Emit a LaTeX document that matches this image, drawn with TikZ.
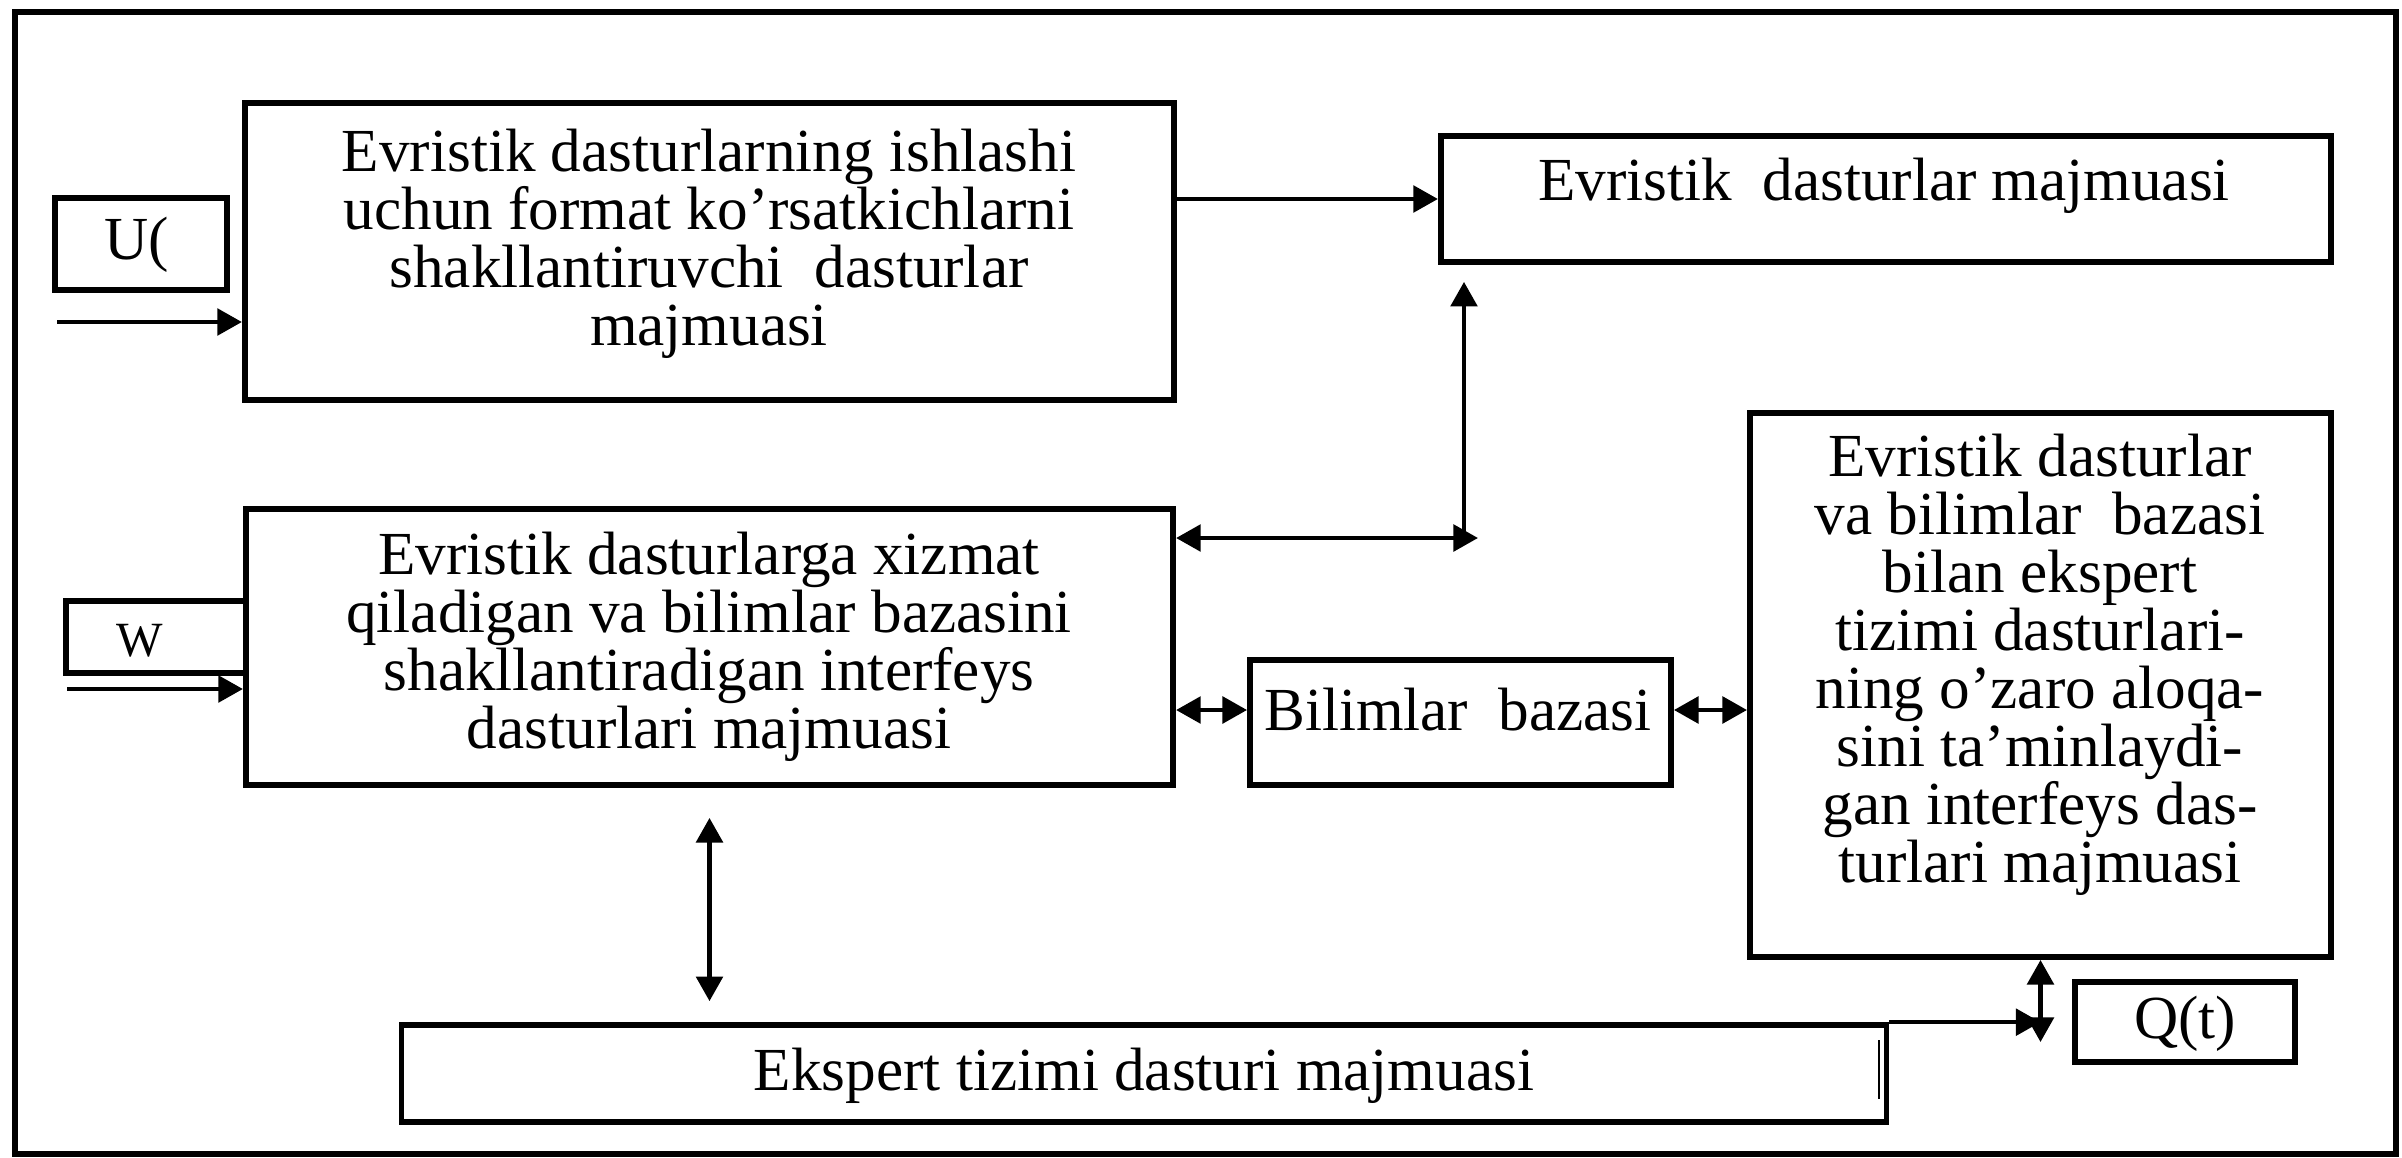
\documentclass[tikz,border=0pt]{standalone}
\usepackage{fontspec}
\setmainfont{Liberation Serif}
\usetikzlibrary{arrows.meta,calc}
\begin{document}
\begin{tikzpicture}[x=0.01cm,y=-0.01cm,
  box/.style={draw,line width=1.6pt,inner sep=0pt,anchor=center},
  txt/.style={align=center,inner sep=0pt,font=\fontsize{17.4}{16.5}\selectfont},
  con/.style={line width=1.3pt,-{Triangle[length=7pt,width=7.5pt]}},
  dcon/.style={line width=1.3pt,{Triangle[length=7pt,width=7.5pt]}-{Triangle[length=7pt,width=7.5pt]}},
]
\useasboundingbox (0,0) rectangle (2402,1157);
\draw[line width=1.6pt] (15,12) rectangle (2396,1154);

% boxes
\node[box,minimum width=9.29cm,minimum height=2.97cm] (A) at (709.5,251.5) {};
\node[txt] (tA) at (709,244) {Evristik dasturlarning ishlashi\\uchun format ko’rsatkichlarni\\shakllantiruvchi\ \ dasturlar\\majmuasi};

\node[box,minimum width=1.72cm,minimum height=0.92cm] (U) at (141,244) {};
\node[txt] (tU) at (137,245) {U(};

\node[box,minimum width=8.90cm,minimum height=1.26cm] (B) at (1886,199) {};
\node[txt] (tB) at (1884,186) {Evristik\ \ dasturlar majmuasi};

\node[box,minimum width=9.27cm,minimum height=2.76cm] (C) at (709.5,647) {};
\node[txt] (tC) at (709,647) {Evristik dasturlarga xizmat\\qiladigan va bilimlar bazasini\\shakllantiradigan interfeys\\dasturlari majmuasi};

\node[box,minimum width=1.80cm,minimum height=0.72cm] (W) at (156,637) {};
\node[txt,font=\fontsize{14}{14}\selectfont] (tW) at (140,641) {W};

\node[box,minimum width=4.21cm,minimum height=1.25cm] (D) at (1460.5,722.5) {};
\node[txt] (tD) at (1458,710) {Bilimlar\ \ bazasi};

\node[box,minimum width=5.81cm,minimum height=5.44cm] (E) at (2040.5,685) {};
\node[txt] (tE) at (2040,665) {Evristik dasturlar\\va bilimlar\ \ bazasi\\bilan ekspert\\tizimi dasturlari-\\ning o’zaro aloqa-\\sini ta’minlaydi-\\gan interfeys das-\\turlari majmuasi};

\node[box,minimum width=14.84cm,minimum height=0.97cm] (F) at (1144,1073.5) {};
\node[txt] (tF) at (1144,1076) {Ekspert tizimi dasturi majmuasi};

\node[box,minimum width=2.20cm,minimum height=0.80cm] (Q) at (2185,1022) {};
\node[txt] (tQ) at (2185,1024) {Q(t)};

% connectors
\coordinate (uin) at (57,322);
\coordinate (win) at (67,689);
\draw[con] (uin) -- (A.west |- uin);
\draw[con] (win) -- (C.west |- win);
\draw[con] (A.east |- B.west) -- (B.west);

\coordinate (cr) at (1464,538);
\draw[dcon] (C.east |- cr) -- ([xshift=0.14cm]cr);
\draw[con] (cr) -- ([yshift=-0.17cm]B.south -| cr);

\draw[dcon] (C.east |- tD) -- (D.west |- tD);
\draw[dcon] (D.east |- tD) -- (E.west |- tD);

\draw[dcon] ([yshift=-0.3cm]C.south) -- ([yshift=0.21cm]C.south |- F.north);

\draw[dcon] (E.south) -- ([yshift=-0.82cm]E.south);
\draw[con] (F.north east) -- (E.south |- F.north);

\draw[line width=0.6pt] ([xshift=-0.1cm,yshift=-0.18cm]F.north east) -- ([xshift=-0.1cm,yshift=-0.77cm]F.north east);
\end{tikzpicture}
\end{document}
